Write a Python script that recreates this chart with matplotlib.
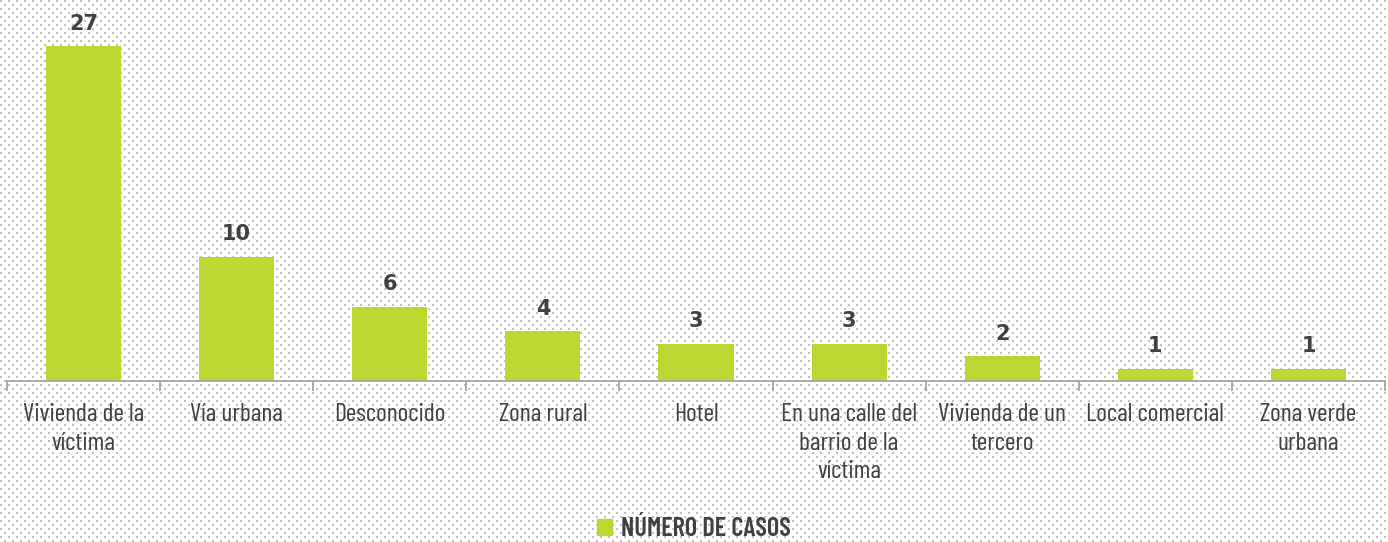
import numpy as np
import matplotlib
matplotlib.use("Agg")
import matplotlib.pyplot as plt
from matplotlib.patches import Patch

categories = ["Vivienda de la\nvíctima", "Vía urbana", "Desconocido", "Zona rural", "Hotel",
              "En una calle del\nbarrio de la\nvíctima", "Vivienda de un\ntercero",
              "Local comercial", "Zona verde\nurbana"]
values = [27, 10, 6, 4, 3, 3, 2, 1, 1]
series_name = "NÚMERO DE CASOS"

cond = ["Barlow Condensed", "DejaVu Sans"]

W, H = 1388, 542
fig = plt.figure(figsize=(W / 100, H / 100), dpi=100)

# dotted background pattern (2px dots, staggered rows every 4px, period 8px)
bg = np.ones((H, W, 3))
yy, xx = np.mgrid[0:H, 0:W]
dots = (((yy % 8) < 2) & ((xx % 8) < 2)) | ((((yy - 4) % 8) < 2) & (((xx - 4) % 8) < 2))
bg[dots] = 0.76
fig.figimage(bg, xo=0, yo=0, zorder=-10)

ax = fig.add_axes([7 / W, 1 - 381 / H, (1385 - 7) / W, (381 - 9) / H])
ax.patch.set_alpha(0)
green = "#bdd631"
txt = "#404040"
x = np.arange(len(values))
bars = ax.bar(x, values, width=0.49, color=green, zorder=2)
ax.set_xlim(-0.5, len(values) - 0.5)
ax.set_ylim(0, 30)
for b, v in zip(bars, values):
    ax.annotate(str(v), (b.get_x() + b.get_width() / 2, v), xytext=(0, 9),
                textcoords="offset points", ha="center", va="bottom",
                fontsize=15, fontweight="bold", color=txt, family="DejaVu Sans")

for s in ["top", "right", "left"]:
    ax.spines[s].set_visible(False)
ax.spines["bottom"].set_color("#a0a0a0")
ax.spines["bottom"].set_linewidth(1.2)
ax.set_yticks([])
ax.set_xticks(np.arange(-0.5, len(values), 1.0))
ax.set_xticklabels([])
ax.tick_params(axis="x", length=7, color="#a0a0a0", width=1.2)
for i, c in enumerate(categories):
    ax.text(i, -0.06, c, transform=ax.get_xaxis_transform(), ha="center", va="top",
            fontsize=18.5, color=txt, family=cond, linespacing=1.3)

leg = fig.legend(handles=[Patch(color=green, label=series_name)], loc="center",
                 bbox_to_anchor=(0.5, 1 - 529 / H), frameon=False,
                 handlelength=0.55, handleheight=0.55, handletextpad=0.35,
                 prop={"family": cond, "size": 19, "weight": "semibold"})
for t in leg.get_texts():
    t.set_color(txt)

fig.savefig("out.png", dpi=100)
